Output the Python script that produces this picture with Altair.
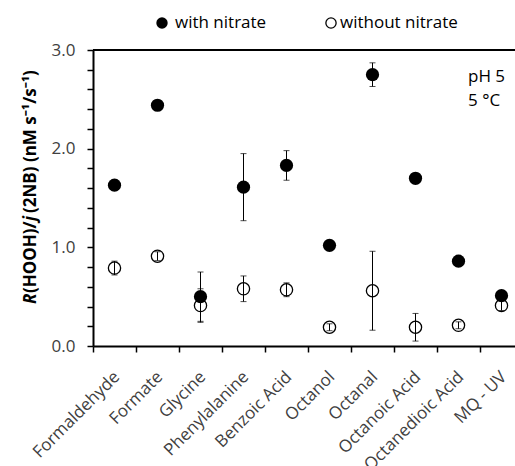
import altair as alt
import pandas as pd

categories = ["Formaldehyde", "Formate", "Glycine", "Phenylalanine", "Benzoic Acid",
              "Octanol", "Octanal", "Octanoic Acid", "Octanedioic Acid", "MQ - UV"]
with_nitrate = [1.63, 2.44, 0.50, 1.61, 1.83, 1.02, 2.75, 1.70, 0.86, 0.51]
with_err = [0.05, 0.04, 0.25, 0.34, 0.15, 0.04, 0.12, 0.04, 0.04, 0.04]
without_nitrate = [0.79, 0.91, 0.41, 0.58, 0.57, 0.19, 0.56, 0.19, 0.21, 0.41]
without_err = [0.07, 0.045, 0.17, 0.13, 0.07, 0.035, 0.40, 0.14, 0.035, 0.05]
y_ticks = [0, 0.2, 0.4, 0.6, 0.8, 1, 1.2, 1.4, 1.6, 1.8, 2, 2.2, 2.4, 2.6, 2.8, 3]

FONT = "Open Sans"
FS = 17
W, H = 422, 296
XMAX = 422 / 43.0

df = pd.DataFrame({
    "cat": categories,
    "pos": [i + 0.5 for i in range(len(categories))],
    "w": with_nitrate,
    "w_lo": [v - e for v, e in zip(with_nitrate, with_err)],
    "w_hi": [v + e for v, e in zip(with_nitrate, with_err)],
    "o": without_nitrate,
    "o_lo": [v - e for v, e in zip(without_nitrate, without_err)],
    "o_hi": [v + e for v, e in zip(without_nitrate, without_err)],
})

xs = alt.Scale(domain=[0, XMAX], nice=False, zero=False)
ys = alt.Scale(domain=[0, 3], nice=False, zero=True)

x_tick_axis = alt.Axis(values=list(range(10)), labels=False, ticks=True, tickSize=6,
                       tickColor="black", tickWidth=1.5, domainColor="black",
                       domainWidth=2, grid=False, title=None, orient="bottom")
y_axis = alt.Axis(values=y_ticks, tickSize=6, tickColor="black", tickWidth=1.5,
                  domainColor="black", domainWidth=2, grid=False, title=None,
                  labelExpr="datum.value % 1 == 0 ? format(datum.value, '.1f') : ''",
                  labelFont=FONT, labelFontSize=FS, labelColor="#404040",
                  labelPadding=12, labelOverlap=False, labelFlush=False)


def X(field):
    return alt.X(field, type="quantitative", scale=xs, axis=x_tick_axis)


def Y(field):
    return alt.Y(field, type="quantitative", scale=ys, axis=y_axis)


base = alt.Chart(df)

# top frame line
top_line = base.mark_rule(color="black", strokeWidth=1.5).encode(
    y=alt.datum(3, scale=ys, axis=y_axis, type="quantitative"),
    x=alt.value(0), x2=alt.value(W))

o_pts = base.mark_point(shape="circle", filled=True, fill="white", stroke="black",
                        strokeWidth=1.3, size=150, opacity=1).encode(x=X("pos"), y=Y("o"))
o_rule = base.mark_rule(color="black", strokeWidth=1).encode(x=X("pos"), y=Y("o_lo"), y2="o_hi:Q")
o_cap1 = base.mark_tick(color="black", orient="horizontal", size=6, thickness=1).encode(
    x=X("pos"), y=Y("o_lo"))
o_cap2 = base.mark_tick(color="black", orient="horizontal", size=6, thickness=1).encode(
    x=X("pos"), y=Y("o_hi"))

w_pts = base.mark_point(shape="circle", filled=True, color="black", size=175, opacity=1).encode(
    x=X("pos"), y=Y("w"))
w_rule = base.mark_rule(color="black", strokeWidth=1).encode(x=X("pos"), y=Y("w_lo"), y2="w_hi:Q")
w_cap1 = base.mark_tick(color="black", orient="horizontal", size=6, thickness=1).encode(
    x=X("pos"), y=Y("w_lo"))
w_cap2 = base.mark_tick(color="black", orient="horizontal", size=6, thickness=1).encode(
    x=X("pos"), y=Y("w_hi"))

main = alt.layer(top_line, o_pts, o_rule, o_cap1, o_cap2, w_pts, w_rule, w_cap1, w_cap2)

# category labels axis (separate x scale with same domain)
label_axis = alt.Axis(values=[i + 0.5 for i in range(10)], ticks=False, tickSize=0, domain=False,
                      grid=False, title=None, orient="bottom",
                      labelExpr="[" + ",".join("'%s'" % c for c in categories) + "][floor(datum.value)]",
                      labelAngle=-45, labelAlign="right", labelBaseline="middle",
                      labelPadding=28, labelOffset=2, labelFont=FONT, labelFontSize=FS,
                      labelColor="#404040", labelOverlap=False, labelBound=False, labelFlush=False)
label_layer = base.mark_point(opacity=0).encode(
    x=alt.X("pos:Q", scale=xs, axis=label_axis), y=Y("w"))


# y title pieces
def ytxt(text, ypos, italic=False):
    return alt.Chart(pd.DataFrame({"t": [text]})).mark_text(
        angle=270, align="left", baseline="alphabetic", font=FONT, fontSize=FS,
        fontWeight="bold", fontStyle="italic" if italic else "normal", color="black"
    ).encode(text="t:N", x=alt.value(-57), y=alt.value(ypos))


title_layers = [
    ytxt("R", 254, True),
    ytxt("(HOOH)/", 243),
    ytxt("j", 171, True),
    ytxt("(2NB) (nM s⁻¹/s⁻¹)", 163),
]


def txt(text, x, y, **kw):
    return alt.Chart(pd.DataFrame({"t": [text]})).mark_text(
        align="left", baseline="middle", font=FONT, fontSize=FS, color="black", **kw
    ).encode(text="t:N", x=alt.value(x), y=alt.value(y))


legend_w = alt.Chart(pd.DataFrame({"a": [0]})).mark_point(
    shape="circle", filled=True, color="black", size=130, opacity=1
).encode(x=alt.value(69), y=alt.value(-27))
legend_o = alt.Chart(pd.DataFrame({"a": [0]})).mark_point(
    shape="circle", filled=True, fill="white", stroke="black", strokeWidth=1.3, size=105, opacity=1
).encode(x=alt.value(238), y=alt.value(-27))

annot = [legend_w, txt("with nitrate", 82, -27), legend_o, txt("without nitrate", 247, -27),
         txt("pH 5", 375, 27), txt("5 °C", 375, 51)]

chart = alt.layer(main, label_layer, *title_layers, *annot).resolve_scale(
    x="independent"
).properties(
    width=W, height=H,
    autosize=alt.AutoSizeParams(type="none"),
    padding={"left": 93, "top": 50, "right": 0, "bottom": 120},
).configure_view(stroke=None).configure_axis(labelOverlap=False).configure(background="white")

chart.save("out.html", embed_options={"renderer": "svg", "actions": False})
